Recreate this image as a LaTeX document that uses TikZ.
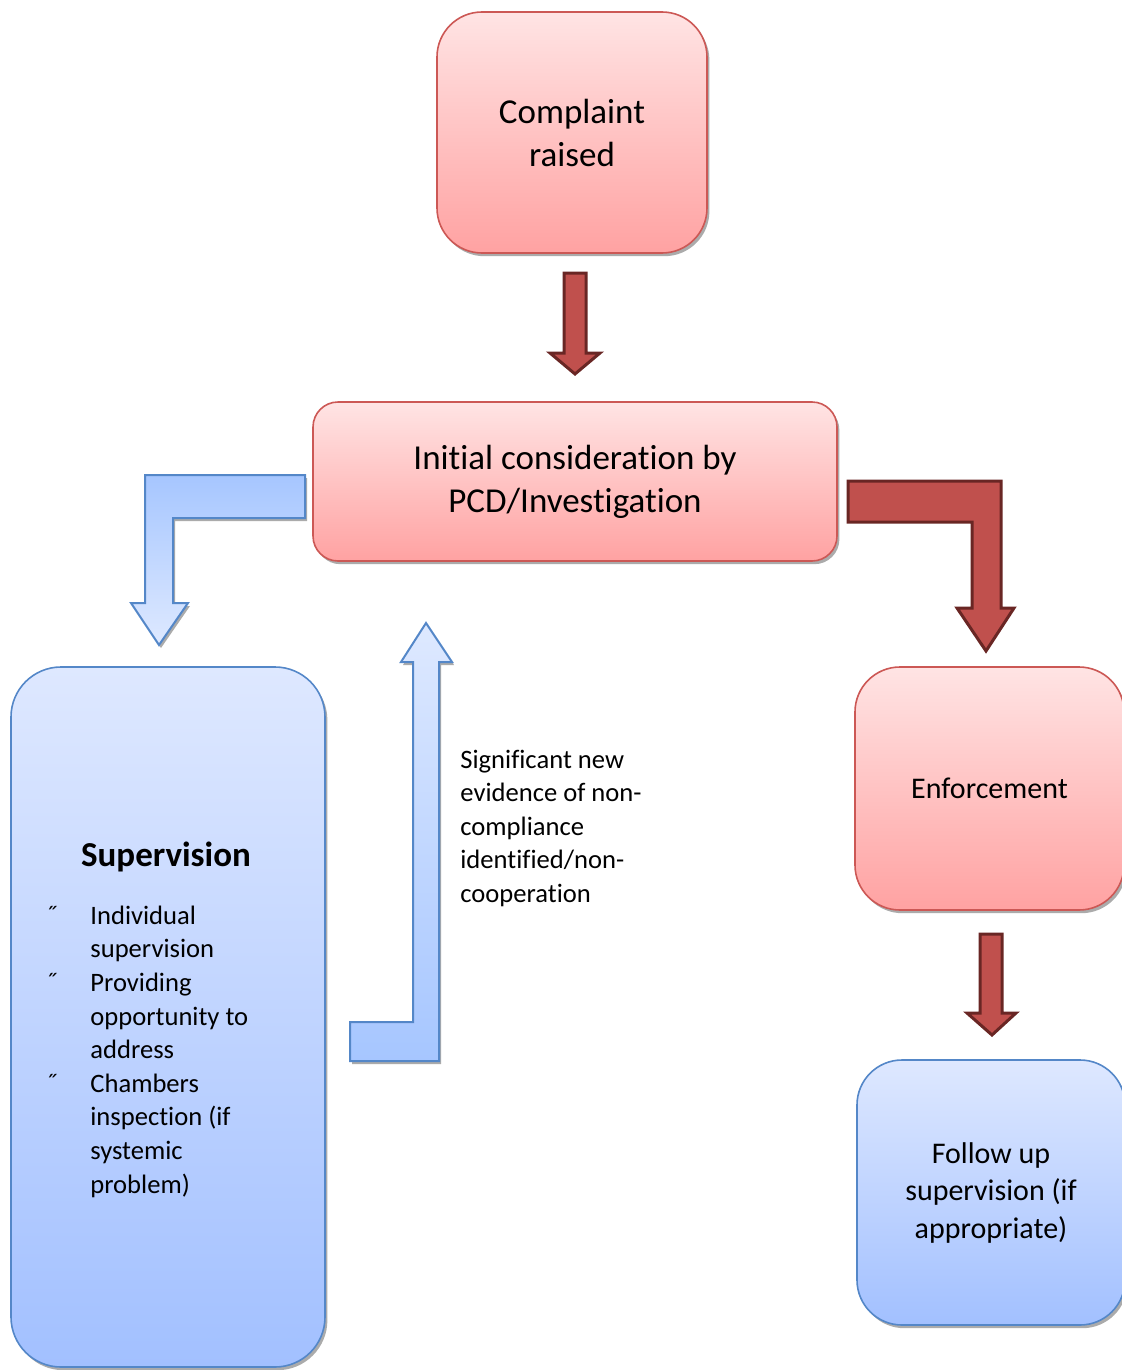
\documentclass[tikz,border=0pt]{standalone}
\usepackage{fontspec}
\setmainfont{Carlito}[Ligatures=NoCommon]
\usetikzlibrary{shadows}
\definecolor{redtop}{RGB}{255,228,228}
\definecolor{redbot}{RGB}{255,162,162}
\definecolor{redline}{RGB}{204,88,85}
\definecolor{bluetop}{RGB}{222,232,255}
\definecolor{bluebot}{RGB}{162,192,255}
\definecolor{blueline}{RGB}{84,135,200}
\definecolor{arrred}{RGB}{192,80,77}
\definecolor{arrredline}{RGB}{105,38,36}
\definecolor{arrbluedark}{RGB}{166,198,255}
\definecolor{arrbluelight}{RGB}{222,233,255}
\definecolor{shadowgray}{RGB}{150,150,150}
\tikzset{
  boxshadow/.style={drop shadow={shadow xshift=1.2pt, shadow yshift=-1.6pt, fill=shadowgray, opacity=0.8}},
  redbox/.style={rectangle, draw=redline, line width=0.8pt, top color=redtop, bottom color=redbot, boxshadow, align=center, inner sep=0pt},
  bluebox/.style={rectangle, draw=blueline, line width=0.8pt, top color=bluetop, bottom color=bluebot, boxshadow, align=center, inner sep=0pt},
  redarrow/.style={fill=arrred, draw=arrredline, line width=1.5pt, line join=miter},
  bluearrow/.style={draw=blueline, line width=1pt, line join=miter},
  arrshadow/.style={fill=shadowgray, opacity=0.8},
  bigtext/.style={font=\fontsize{17.5}{21.5}\selectfont},
  midtext/.style={font=\fontsize{15}{18.75}\selectfont},
  smalltext/.style={font=\fontsize{13.3}{16.8}\selectfont},
}
\newcommand{\bul}{\llap{\makebox[22.5pt][l]{\symbol{"02DD}}}}
\begin{document}
\begin{tikzpicture}[x=0.5pt,y=-0.5pt]
\useasboundingbox (0,0) rectangle (1122,1370);
% boxes
\node[redbox, bigtext, minimum width=135pt, minimum height=120.5pt, rounded corners=22.5pt] (complaint) at (572,132.5) {Complaint\\raised};
\node[redbox, bigtext, minimum width=262pt, minimum height=79.5pt, rounded corners=12.5pt] (initial) at (575,481.5) {Initial consideration by\\PCD/Investigation};
\node[redbox, midtext, minimum width=134.5pt, minimum height=121.5pt, rounded corners=22.5pt] (enforce) at (989.5,788.5) {Enforcement};
\node[bluebox, midtext, minimum width=134pt, minimum height=132.5pt, rounded corners=22.5pt] (followup) at (991,1192.5) {Follow up\\supervision (if\\appropriate)};
\node[bluebox, minimum width=157pt, minimum height=350pt, rounded corners=25pt] (supervision) at (168,1017) {};
\node[anchor=base, font=\fontsize{17.5}{21.5}\selectfont\bfseries] (suptitle) at (166,866) {Supervision};
\node[anchor=base west, smalltext, align=left, inner sep=0pt] (suplist) at (90,1193)
 {\bul Individual\\supervision\\\bul Providing\\opportunity to\\address\\\bul Chambers\\inspection (if\\systemic\\problem)};
\node[anchor=base west, smalltext, align=left, inner sep=0pt] (evidence) at (460,902.5)
 {Significant new\\evidence of non-\\compliance\\identified/non-\\cooperation};
% red arrows
\draw[redarrow] (564,273) -- (586,273) -- (586,353) -- (600,353) -- (575,374) -- (550,353) -- (564,353) -- cycle;
\draw[redarrow] (848,481) -- (1001,481) -- (1001,608) -- (1014,608) -- (986,651) -- (957,608) -- (972,608) -- (972,522) -- (848,522) -- cycle;
\draw[redarrow] (980,934) -- (1002,934) -- (1002,1013) -- (1016,1013) -- (992,1035) -- (967,1013) -- (980,1013) -- cycle;
% blue arrows shadows
\fill[arrshadow] (307,478) -- (147,478) -- (147,606) -- (133,606) -- (161,648) -- (190,606) -- (175,606) -- (175,521) -- (307,521) -- cycle;
\fill[arrshadow] (352,1064) -- (441,1064) -- (441,665) -- (454,665) -- (428,626) -- (403,665) -- (415,665) -- (415,1025) -- (352,1025) -- cycle;
% blue arrows
\draw[bluearrow, top color=arrbluedark, bottom color=arrbluelight] (305,475) -- (145,475) -- (145,603) -- (131,603) -- (159,645) -- (188,603) -- (173,603) -- (173,518) -- (305,518) -- cycle;
\draw[bluearrow, top color=arrbluelight, bottom color=arrbluedark] (350,1061) -- (439,1061) -- (439,662) -- (452,662) -- (426,623) -- (401,662) -- (413,662) -- (413,1022) -- (350,1022) -- cycle;
\end{tikzpicture}
\end{document}
